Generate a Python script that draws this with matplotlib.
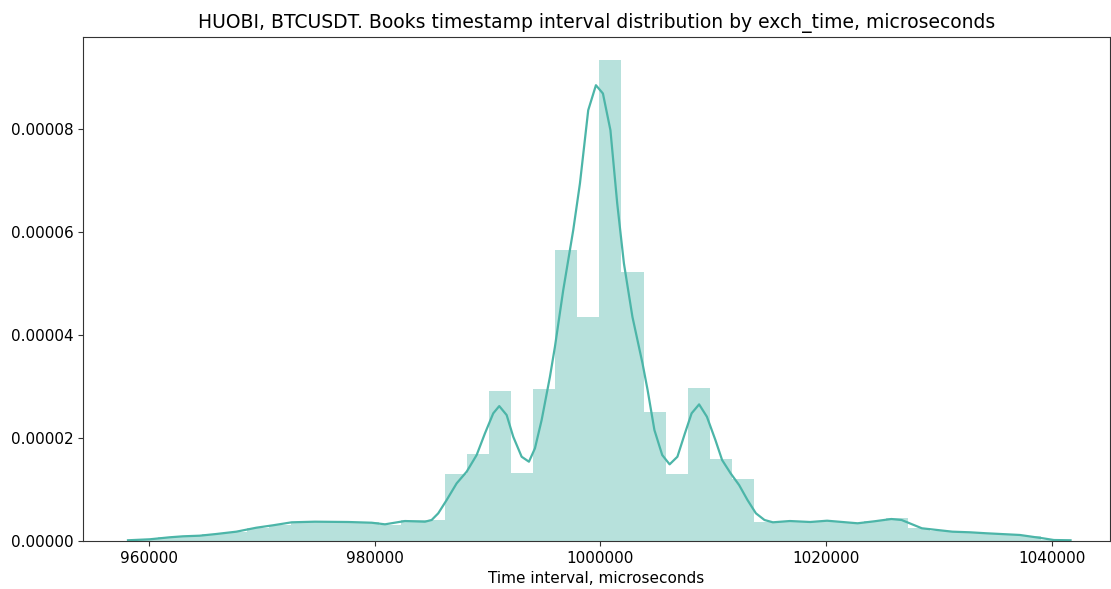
import numpy as np
import matplotlib
matplotlib.use('Agg')
import matplotlib.pyplot as plt
from matplotlib.ticker import FormatStrFormatter, MultipleLocator

# histogram: 42 equal bins between the data min and max
bin_start = 958870
bin_end = 1040980
n_bins = 42
hist_density = [3e-7, 7e-7, 9.5e-7, 1.3e-6, 1.8e-6, 2.6e-6, 3.2e-6, 3.7e-6, 3.7e-6, 3.7e-6,
                3.6e-6, 3.1e-6, 4.1e-6, 4.0e-6, 1.294e-5, 1.683e-5, 2.913e-5, 1.320e-5, 2.945e-5, 5.650e-5,
                4.356e-5, 9.352e-5, 5.229e-5, 2.498e-5, 1.294e-5, 2.977e-5, 1.592e-5, 1.204e-5, 3.7e-6, 3.8e-6,
                3.7e-6, 3.8e-6, 3.5e-6, 3.8e-6, 4.5e-6, 2.5e-6, 1.9e-6, 1.75e-6, 1.55e-6, 1.3e-6,
                1.0e-6, 2e-7]

# kde curve
kde_x = [958140, 960063, 961836, 963014, 964494, 965965, 967738, 969510, 970990, 972647,
         974712, 977663, 979737, 980916, 982688, 984460, 985054, 985639, 986384, 987270,
         988156, 989042, 989778, 990513, 991045, 991701, 992286, 993030, 993677, 994209,
         994802, 995538, 995981, 996717, 997603, 998197, 998932, 999615, 1000235, 1000900,
         1001502, 1002096, 1002849, 1003744, 1004196, 1004799, 1005490, 1006146, 1006837, 1007502,
         1008095, 1008760, 1009451, 1010205, 1010798, 1011552, 1012305, 1013049, 1013794, 1014556,
         1015300, 1016807, 1018606, 1020103, 1022806, 1024304, 1025802, 1026706, 1028505, 1031208,
         1032758, 1034212, 1037189, 1039254, 1040203, 1041682]
kde_y = [1.4e-7, 3.3e-7, 7.2e-7, 9.1e-7, 1.03e-6, 1.36e-6, 1.81e-6, 2.58e-6, 3.05e-6, 3.63e-6,
         3.75e-6, 3.69e-6, 3.55e-6, 3.24e-6, 3.88e-6, 3.75e-6, 4.08e-6, 5.38e-6, 7.96e-6, 1.120e-5,
         1.346e-5, 1.670e-5, 2.091e-5, 2.480e-5, 2.621e-5, 2.447e-5, 2.025e-5, 1.637e-5, 1.540e-5, 1.800e-5,
         2.349e-5, 3.190e-5, 3.773e-5, 4.874e-5, 6.039e-5, 6.945e-5, 8.369e-5, 8.854e-5, 8.693e-5, 7.980e-5,
         6.557e-5, 5.392e-5, 4.355e-5, 3.450e-5, 2.932e-5, 2.155e-5, 1.670e-5, 1.489e-5, 1.637e-5, 2.091e-5,
         2.480e-5, 2.654e-5, 2.414e-5, 1.961e-5, 1.573e-5, 1.315e-5, 1.087e-5, 7.96e-6, 5.38e-6, 4.08e-6,
         3.63e-6, 3.88e-6, 3.69e-6, 3.94e-6, 3.44e-6, 3.83e-6, 4.27e-6, 4.08e-6, 2.47e-6, 1.81e-6,
         1.69e-6, 1.50e-6, 1.17e-6, 5.2e-7, 1.9e-7, 1.4e-7]

color = '#4cb5a8'

edges = np.linspace(bin_start, bin_end, n_bins + 1)
width = edges[1] - edges[0]

fig = plt.figure(figsize=(11.11, 5.89), dpi=100)
ax = fig.add_axes([0.0747, 0.0815, 0.9243, 0.8565])

ax.bar(edges[:-1], hist_density, width=width, align='edge', color=color, alpha=0.4, linewidth=0)
ax.plot(kde_x, kde_y, color=color, linewidth=1.6)

ax.set_xlim(954150, 1045170)
ax.set_ylim(0, 9.8e-5)
ax.xaxis.set_major_locator(MultipleLocator(20000))
ax.xaxis.set_major_formatter(FormatStrFormatter('%d'))
ax.yaxis.set_major_locator(MultipleLocator(0.00002))
ax.yaxis.set_major_formatter(FormatStrFormatter('%.5f'))
ax.tick_params(labelsize=11, color='#333333')
for s in ax.spines.values():
    s.set_color('#333333')

ax.set_title('HUOBI, BTCUSDT. Books timestamp interval distribution by exch_time, microseconds', fontsize=13.5)
ax.set_xlabel('Time interval, microseconds', fontsize=11)

fig.savefig('out.png', dpi=100)
